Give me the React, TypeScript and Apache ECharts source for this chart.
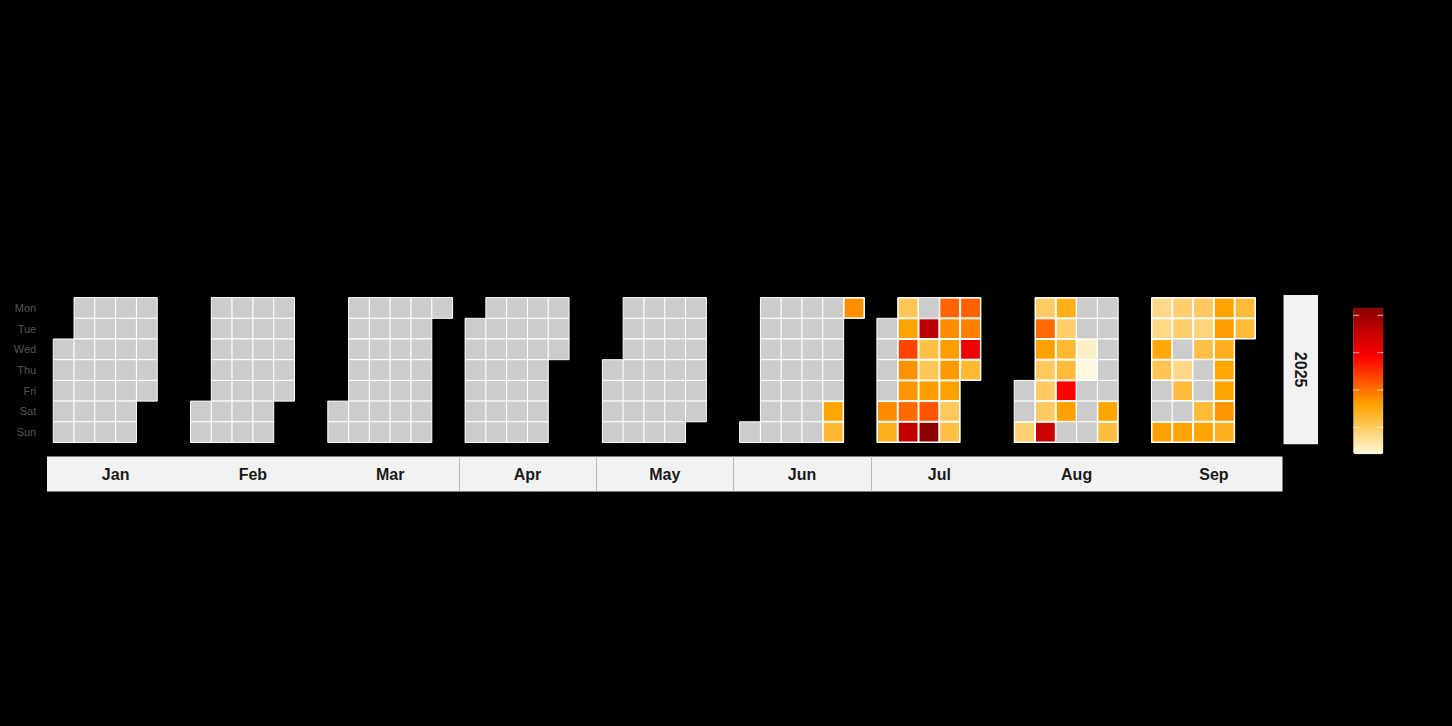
import React, { useEffect, useRef } from "react";
import * as echarts from "echarts";

const YEAR = 2025;
const monthNames = ["Jan", "Feb", "Mar", "Apr", "May", "Jun", "Jul", "Aug", "Sep"];
const dayNames = ["Sun", "Mon", "Tue", "Wed", "Thu", "Fri", "Sat"];

// daily values: [day of month, value]; missing days are shown grey (no data)
const janValues: [number, number][] = [];
const febValues: [number, number][] = [];
const marValues: [number, number][] = [];
const aprValues: [number, number][] = [];
const mayValues: [number, number][] = [];
const junValues: [number, number][] = [[28, 15.7], [29, 13.0], [30, 17.8]];
const julValues: [number, number][] = [
  [5, 17.9], [6, 14.1], [7, 10.8], [8, 16.0], [9, 23.5], [10, 17.4], [11, 17.1], [12, 20.5],
  [13, 36.0], [15, 36.6], [16, 11.6], [17, 10.8], [18, 16.5], [19, 22.2], [20, 42.0],
  [21, 21.0], [22, 17.9], [23, 16.5], [24, 16.8], [25, 16.2], [26, 10.4], [27, 11.8],
  [28, 21.3], [29, 18.8], [30, 30.9], [31, 12.9],
];
const augValues: [number, number][] = [
  [3, 9.1], [4, 9.9], [5, 20.5], [6, 16.2], [7, 10.2], [8, 10.0], [9, 10.0], [10, 34.7],
  [11, 14.3], [12, 9.6], [13, 12.9], [14, 12.5], [15, 29.0], [16, 16.2], [20, 4.1], [21, 2.8],
  [30, 15.9], [31, 12.2],
];
const sepValues: [number, number][] = [
  [1, 7.8], [2, 7.8], [3, 15.4], [4, 11.0], [7, 16.2], [8, 9.4], [9, 9.4], [11, 7.8],
  [12, 12.2], [14, 16.0], [15, 10.2], [16, 8.5], [17, 11.6], [20, 12.6], [21, 15.9],
  [22, 16.0], [23, 16.4], [24, 14.1], [25, 15.6], [26, 15.9], [27, 17.1], [28, 14.0],
  [29, 12.6], [30, 12.6],
];
const monthValues = [janValues, febValues, marValues, aprValues, mayValues, junValues, julValues, augValues, sepValues];
const legendTicks = [10, 20, 30, 40];
const palette = ["#FFF8DC", "#FFA500", "#FF0000", "#8B0000"];

const FONT = "'Liberation Sans', Arial, Helvetica, sans-serif";
const CELL_W = 20.8;
const CELL_H = 20.7;
const PANEL_X0 = 47;
const PANEL_W = 6.6 * CELL_W;
const CAL_TOP = 297.6;
const PANEL_TOP = 295;
const PANEL_H = 149.3;
const STRIP_TOP = 456.5;
const STRIP_H = 35;
const LEG_X = 1353.3;
const LEG_Y = 307.8;
const LEG_W = 30;
const LEG_H = 146.5;

const pad = (n: number) => (n < 10 ? "0" + n : "" + n);

export default function App() {
  const ref = useRef<HTMLDivElement>(null);
  useEffect(() => {
    document.body.style.margin = "0";
    document.body.style.background = "#000";
    if (!ref.current) return;
    const chart = echarts.init(ref.current, undefined, { renderer: "svg" });

    const allVals = monthValues.flat().map((d) => d[1]);
    const vMin = Math.min(...allVals);
    const vMax = Math.max(...allVals);

    const calendars = monthNames.map((_, m) => ({
      orient: "horizontal",
      range: `${YEAR}-${pad(m + 1)}`,
      left: PANEL_X0 + m * PANEL_W + 0.3 * CELL_W,
      top: CAL_TOP,
      cellSize: [CELL_W, CELL_H],
      splitLine: { show: false },
      itemStyle: { color: "#CCCCCC", borderColor: "#FFFFFF", borderWidth: 1 },
      dayLabel: {
        show: m === 0,
        firstDay: 1,
        nameMap: dayNames,
        position: "start",
        margin: 17,
        color: "#555555",
        fontSize: 11,
        fontFamily: FONT,
      },
      monthLabel: { show: false },
      yearLabel: { show: false },
      silent: true,
    }));

    const series = monthNames.map((_, m) => ({
      type: "heatmap",
      coordinateSystem: "calendar",
      calendarIndex: m,
      data: monthValues[m].map(([d, v]) => [`${YEAR}-${pad(m + 1)}-${pad(d)}`, v]),
      itemStyle: { borderColor: "#FFFFFF", borderWidth: 1 },
      emphasis: { disabled: true },
    }));

    const graphics: any[] = [];
    const panelEnd = PANEL_X0 + monthNames.length * PANEL_W;
    graphics.push({
      type: "rect",
      shape: { x: PANEL_X0, y: STRIP_TOP, width: panelEnd - PANEL_X0, height: STRIP_H },
      style: { fill: "#F2F2F2" },
      silent: true,
    });
    [3, 4, 5, 6].forEach((m) => {
      const x = Math.round(PANEL_X0 + m * PANEL_W) + 0.5;
      graphics.push({
        type: "line",
        shape: { x1: x, y1: STRIP_TOP, x2: x, y2: STRIP_TOP + STRIP_H },
        style: { stroke: "#B8B8B8", lineWidth: 1 },
        silent: true,
      });
    });
    monthNames.forEach((name, m) => {
      graphics.push({
        type: "text",
        x: PANEL_X0 + (m + 0.5) * PANEL_W,
        y: STRIP_TOP + STRIP_H / 2,
        style: {
          text: name,
          align: "center",
          verticalAlign: "middle",
          fontSize: 16,
          fontWeight: "bold",
          fontFamily: FONT,
          fill: "#1A1A1A",
        },
        silent: true,
      });
    });
    graphics.push({
      type: "rect",
      shape: { x: panelEnd + 1, y: PANEL_TOP, width: 34.5, height: PANEL_H },
      style: { fill: "#F2F2F2" },
      silent: true,
    });
    graphics.push({
      type: "text",
      x: panelEnd + 1 + 34.5 / 2,
      y: PANEL_TOP + PANEL_H / 2,
      rotation: -Math.PI / 2,
      style: {
        text: String(YEAR),
        align: "center",
        verticalAlign: "middle",
        fontSize: 16,
        fontWeight: "bold",
        fontFamily: FONT,
        fill: "#1A1A1A",
      },
      silent: true,
    });
    legendTicks.forEach((t) => {
      const y = LEG_Y + LEG_H - ((t - vMin) / (vMax - vMin)) * LEG_H;
      graphics.push({
        type: "line",
        shape: { x1: LEG_X, y1: y, x2: LEG_X + LEG_W / 5, y2: y },
        style: { stroke: "rgba(255,255,255,0.7)", lineWidth: 1 },
        silent: true,
        z: 100,
      });
      graphics.push({
        type: "line",
        shape: { x1: LEG_X + LEG_W - LEG_W / 5, y1: y, x2: LEG_X + LEG_W, y2: y },
        style: { stroke: "rgba(255,255,255,0.7)", lineWidth: 1 },
        silent: true,
        z: 100,
      });
    });

    chart.setOption({
      animation: false,
      backgroundColor: "#000000",
      tooltip: { show: false },
      calendar: calendars,
      visualMap: {
        type: "continuous",
        min: vMin,
        max: vMax,
        calculable: false,
        hoverLink: false,
        seriesIndex: series.map((_, i) => i),
        left: LEG_X,
        top: LEG_Y,
        itemWidth: LEG_W,
        itemHeight: LEG_H,
        padding: 0,
        inRange: { color: palette },
      },
      series,
      graphic: { elements: graphics },
    });

    return () => chart.dispose();
  }, []);

  return (
    <div
      ref={ref}
      style={{ position: "fixed", left: 0, top: 0, width: 1452, height: 726, background: "#000" }}
    />
  );
}
